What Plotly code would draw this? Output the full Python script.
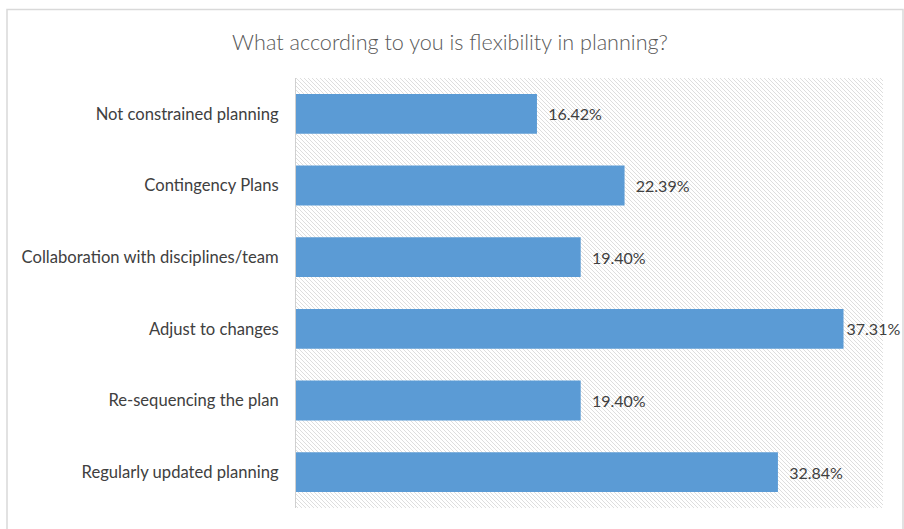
import base64
import plotly.graph_objects as go

categories = [
    "Not constrained planning",
    "Contingency Plans",
    "Collaboration with disciplines/team",
    "Adjust to changes",
    "Re-sequencing the plan",
    "Regularly updated planning",
]
values = [16.42, 22.39, 19.40, 37.31, 19.40, 32.84]
title_text = "What according to you is flexibility in planning?"

W, H = 904, 529
ML, MR, MT, MB = 296, 21, 78, 21
PW, PH = W - ML - MR, H - MT - MB

svg = (
    f"<svg xmlns='http://www.w3.org/2000/svg' width='{PW}' height='{PH}'>"
    "<defs><pattern id='h' width='4' height='4' patternUnits='userSpaceOnUse'>"
    "<path d='M-1,-1 L5,5 M-1,3 L1,5 M3,-1 L5,1' stroke='#d6d6d6' stroke-width='0.8'/>"
    "</pattern></defs><rect width='100%' height='100%' fill='url(#h)'/></svg>"
)
uri = "data:image/svg+xml;base64," + base64.b64encode(svg.encode()).decode()

# Excel pulls the label of the longest bar in so it stays inside the chart
max_v = max(values)
labels = [("%.2f%%" % v) if v == max_v else ("  %.2f%%" % v) for v in values]

fig = go.Figure(
    go.Bar(
        x=values,
        y=categories,
        orientation="h",
        marker=dict(color="#5b9bd5", line=dict(width=0)),
        text=labels,
        texttemplate="%{text}",
        textposition="outside",
        textfont=dict(family="Lato", size=16, color="#404040"),
        cliponaxis=False,
        hoverinfo="skip",
    )
)

fig.update_layout(
    width=W,
    height=H,
    margin=dict(l=ML, r=MR, t=MT, b=MB),
    paper_bgcolor="white",
    plot_bgcolor="rgba(0,0,0,0)",
    bargap=0.444,
    showlegend=False,
    title=dict(
        text=title_text,
        x=450 / W,
        xref="container",
        xanchor="center",
        y=1 - 42 / H,
        yanchor="middle",
        font=dict(family="Lato", size=21.6, color="#595959", weight=300),
    ),
    xaxis=dict(
        range=[0, 40],
        showgrid=False,
        zeroline=False,
        showticklabels=False,
        showline=False,
        fixedrange=True,
    ),
    yaxis=dict(
        autorange="reversed",
        showgrid=False,
        zeroline=False,
        showline=True,
        linecolor="#d0d0d0",
        linewidth=1,
        ticks="",
        ticklabelstandoff=13,
        tickfont=dict(family="Lato", size=16.6, color="#404040"),
    ),
    images=[
        dict(
            source=uri,
            xref="paper",
            yref="paper",
            x=0,
            y=1,
            sizex=1,
            sizey=1,
            xanchor="left",
            yanchor="top",
            sizing="stretch",
            layer="below",
        )
    ],
    shapes=[
        dict(
            type="rect",
            xref="paper",
            yref="paper",
            x0=(7 - ML) / PW,
            x1=(903 - ML) / PW,
            y0=-(H + 10 - (H - MB)) / PH,
            y1=(H - MB - 9.5) / PH,
            line=dict(color="#d9d9d9", width=1.5),
            fillcolor="rgba(0,0,0,0)",
            layer="below",
        )
    ],
)

fig.write_html("out.html")
